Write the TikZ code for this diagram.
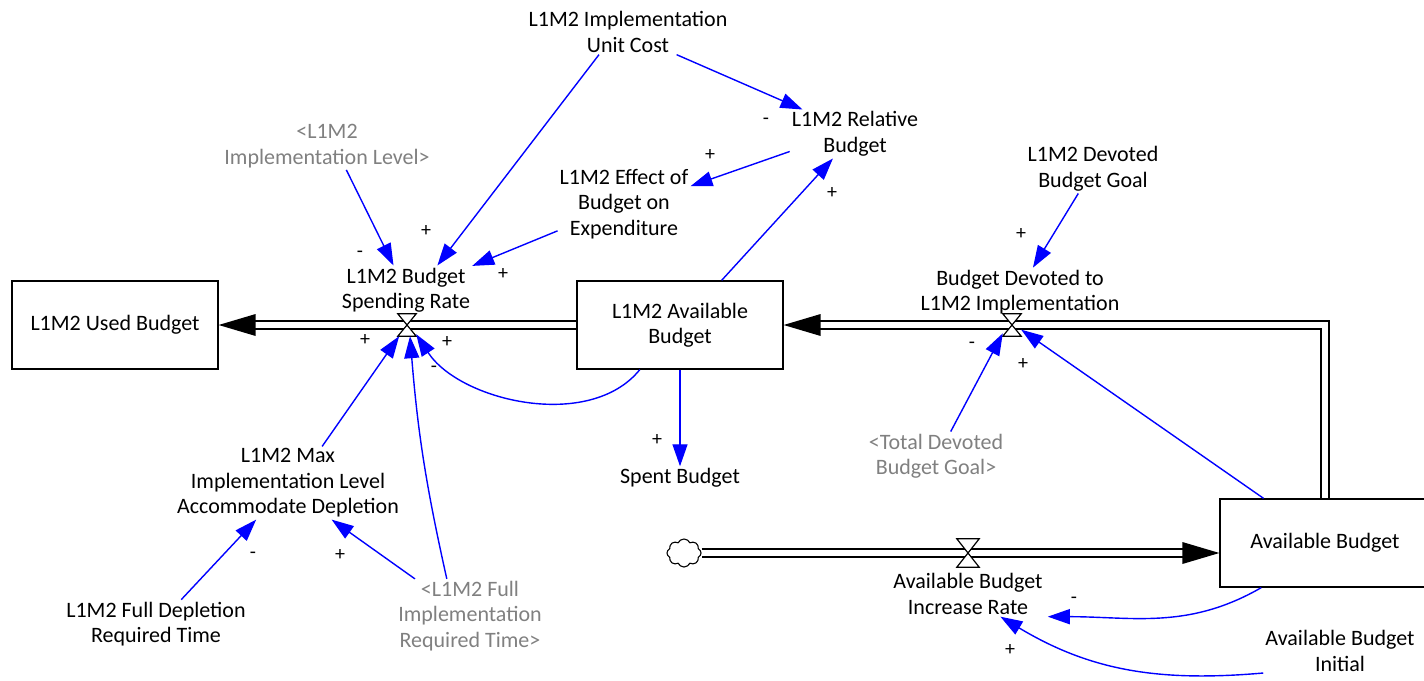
\documentclass[tikz,border=0pt]{standalone}
\usepackage{fontspec}
\setmainfont{Carlito}
\usetikzlibrary{arrows.meta,shapes.symbols,calc,backgrounds}
\definecolor{shadowtext}{RGB}{128,128,128}
\definecolor{linkblue}{RGB}{0,0,255}

\begin{document}
\begin{tikzpicture}[x=1pt,y=1pt,
  every node/.style={font=\fontsize{22}{25.5}\selectfont},
  var/.style={align=center, inner sep=2pt},
  shadowvar/.style={var, text=shadowtext},
  stock/.style={draw, line width=1.3pt, minimum width=206pt, minimum height=88pt, inner sep=0pt},
  link/.style={draw=linkblue, line width=1.4pt, -{Triangle[length=22pt,width=15pt]}},
  pol/.style={font=\fontsize{20}{22}\selectfont, inner sep=0pt},
  pipe/.style={draw, line width=1.3pt, double distance=6.7pt, shorten >=34pt},
  valvebox/.style={minimum width=18pt, minimum height=22pt, inner sep=0pt},
  valveshape/.style={draw, fill=white, line width=1.2pt},
]
\useasboundingbox (0,0) rectangle (1424,-680);

% stocks
\node[stock] (used) at (115,-325) {L1M2 Used Budget};
\node[stock, align=center] (l1avail) at (680,-325) {L1M2 Available\\Budget};
\node[stock, minimum width=210pt] (avail) at (1325,-543) {Available Budget};

% auxiliaries
\node[var] (ucost) at (628,-32) {L1M2 Implementation\\Unit Cost};
\node[var] (rel) at (855,-134) {L1M2 Relative\\Budget};
\node[shadowvar] (implvl) at (327,-146) {<L1M2\\Implementation Level>};
\node[var] (effect) at (624,-204) {L1M2 Effect of\\Budget on\\Expenditure};
\node[var] (goal) at (1093,-169) {L1M2 Devoted\\Budget Goal};
\node[var] (srate) at (406,-290) {L1M2 Budget\\Spending Rate};
\node[var] (devoted) at (1020,-292) {Budget Devoted to\\L1M2 Implementation};
\node[var] (spent) at (680,-478) {Spent Budget};
\node[shadowvar] (total) at (936,-456) {<Total Devoted\\Budget Goal>};
\node[var] (maxlvl) at (288,-483) {L1M2 Max\\Implementation Level\\Accommodate Depletion};
\node[var] (incr) at (968,-594) {Available Budget\\Increase Rate};
\node[var] (deptime) at (156,-624) {L1M2 Full Depletion\\Required Time};
\node[shadowvar] (fulltime) at (470,-616) {<L1M2 Full\\Implementation\\Required Time>};
\node[var] (initial) at (1340,-651) {Available Budget\\Initial};

% source cloud and valves
\node[cloud, draw, cloud puffs=8, cloud puff arc=130, aspect=1.25, minimum width=34pt, minimum height=28pt, inner sep=0pt, line width=1.1pt] (src) at (684,-553) {};
\node[valvebox] (v1) at (407,-325) {};
\node[valvebox] (v2) at (1012,-325) {};
\node[valvebox, minimum width=22pt, minimum height=28pt] (v3) at (968,-553) {};

% flow pipes
\begin{scope}[on background layer]
  \draw[pipe] (l1avail.west) -- (used.east);
  \draw[pipe] (avail.north) |- (l1avail.east);
  \draw[pipe] (src.east) -- (avail.west |- src.east);
\end{scope}
\fill (used.east) -- ++(37,11) -- ++(0,-22) -- cycle;
\fill (l1avail.east) -- ++(37,11) -- ++(0,-22) -- cycle;
\fill (avail.west |- src.east) -- ++(-37,11) -- ++(0,-22) -- cycle;

\foreach \v in {v1,v2,v3}
  \draw[valveshape] (\v.north west) -- (\v.north east) -- (\v.south west) -- (\v.south east) -- cycle;

% causal links
\draw[link] (ucost.-25) -- (rel.155);
\draw[link] (ucost.218) -- (srate.38);
\draw[link] (rel.195) -- (effect.15);
\draw[link] (l1avail.47) -- (rel.228);
\draw[link] (implvl.-51) -- (srate.117);
\draw[link] (effect.202) -- (srate.20);
\draw[link] (goal.239) -- (devoted.62);
\draw[link] (maxlvl.47) -- (v1.235);
\draw[link] (fulltime.122) to[bend left=4] (v1.285);
\draw[link] (l1avail.228) to[out=231,in=303,looseness=0.9] (v1.315);
\draw[link] (fulltime.146) -- (maxlvl.-40);
\draw[link] (deptime.44) -- (maxlvl.229);
\draw[link] (l1avail.south) -- (spent.north);
\draw[link] (total.59) -- (v2.222);
\draw[link] (avail.144) -- (v2.-27);
\draw[link] (avail.215) to[out=210,in=0] ([xshift=3pt]incr.south east);
\draw[link] (initial.196) to[out=185,in=329] (incr.-35);

% link polarities
\node[pol] (p1) at (766,-121) {-};
\node[pol] (p2) at (426,-231) {+};
\node[pol] (p3) at (710,-155) {+};
\node[pol] (p4) at (832,-193) {+};
\node[pol] (p5) at (360,-254) {-};
\node[pol] (p6) at (503,-274) {+};
\node[pol] (p7) at (1021,-234) {+};
\node[pol] (p8) at (365,-340) {+};
\node[pol] (p9) at (447,-342) {+};
\node[pol] (p10) at (434,-369) {-};
\node[pol] (p11) at (340,-555) {+};
\node[pol] (p12) at (253,-555) {-};
\node[pol] (p13) at (657,-440) {+};
\node[pol] (p14) at (972,-345) {-};
\node[pol] (p15) at (1023,-364) {+};
\node[pol] (p16) at (1074,-600) {-};
\node[pol] (p17) at (1010,-650) {+};
\end{tikzpicture}
\end{document}
